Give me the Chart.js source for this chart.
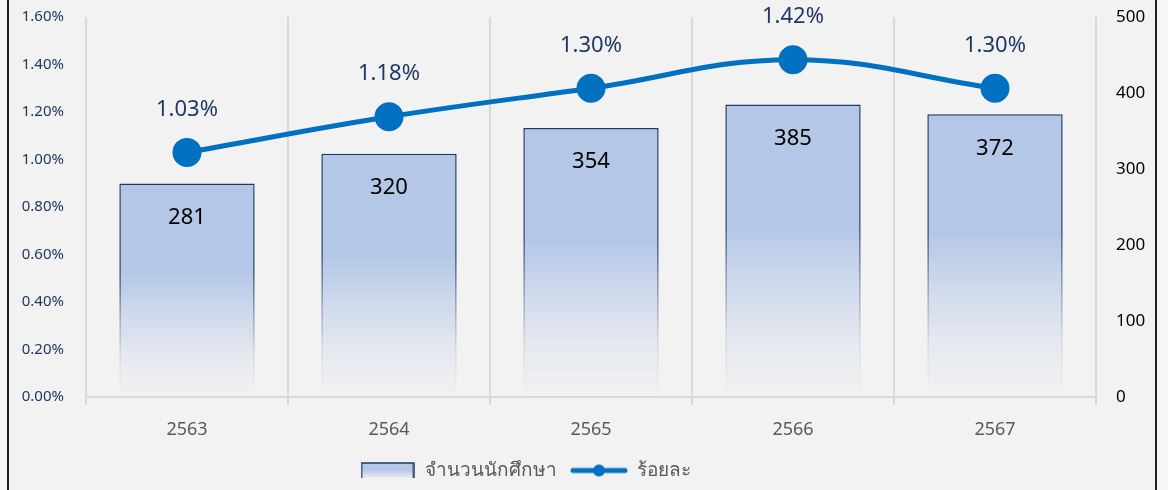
<!DOCTYPE html>
<html>
<head>
<meta charset="utf-8">
<script src="https://cdn.jsdelivr.net/npm/chart.js@4.4.0/dist/chart.umd.min.js"></script>
<style>
  html, body { margin: 0; padding: 0; background: #f7f7f7; }
  #frame {
    position: absolute; left: 7px; top: 0; width: 1146px; height: 490px;
    background: #f2f2f2; border-left: 2px solid #222; border-right: 2px solid #222;
  }
  #wrap { position: absolute; left: 0; top: 0; width: 1146px; height: 490px; }
</style>
</head>
<body>
<div id="frame"><div id="wrap"><canvas id="chart"></canvas></div></div>
<script>
const years = ['2563', '2564', '2565', '2566', '2567'];
const students = [281, 320, 354, 385, 372];
const percents = [1.03, 1.18, 1.30, 1.42, 1.30];
const pctTicks = [0, 0.2, 0.4, 0.6, 0.8, 1.0, 1.2, 1.4, 1.6];
const countTicks = [0, 100, 200, 300, 400, 500];

const FONT = "'Noto Sans', 'Open Sans', sans-serif";
const BAR_BLUE = '#b4c7e7';
const NAVY = '#203864';
const LINE_BLUE = '#0070c0';

// gradient for each bar, from its top to the axis
function barGradient(ctx, top, bottom, solid, fade) {
  const g = ctx.createLinearGradient(0, top, 0, bottom);
  g.addColorStop(0, solid);
  g.addColorStop(0.42, solid);
  g.addColorStop(0.6, fade[0]);
  g.addColorStop(0.8, fade[1]);
  g.addColorStop(1, fade[2]);
  return g;
}

function barFill(context) {
  const chart = context.chart;
  if (!chart.chartArea || context.type !== 'data') return BAR_BLUE;
  const y = chart.scales.yCount;
  return barGradient(chart.ctx, y.getPixelForValue(context.raw), y.getPixelForValue(0),
    BAR_BLUE, ['rgba(180,199,231,0.6)', 'rgba(180,199,231,0.22)', 'rgba(180,199,231,0)']);
}

function barBorder(context) {
  const chart = context.chart;
  if (!chart.chartArea || context.type !== 'data') return NAVY;
  const y = chart.scales.yCount;
  return barGradient(chart.ctx, y.getPixelForValue(context.raw), y.getPixelForValue(0),
    NAVY, ['rgba(32,56,100,0.55)', 'rgba(32,56,100,0.15)', 'rgba(32,56,100,0)']);
}

// legend swatches drawn on small canvases
function barSwatch() {
  const c = document.createElement('canvas');
  c.width = 54; c.height = 17;
  const x = c.getContext('2d');
  const g = x.createLinearGradient(0, 1, 0, 16);
  g.addColorStop(0, BAR_BLUE);
  g.addColorStop(0.45, BAR_BLUE);
  g.addColorStop(1, 'rgba(180,199,231,0.1)');
  x.fillStyle = g;
  x.fillRect(1, 1, 52, 15);
  x.strokeStyle = NAVY;
  x.lineWidth = 1.5;
  x.beginPath();
  x.moveTo(1, 16); x.lineTo(1, 1); x.lineTo(53, 1); x.lineTo(53, 16);
  x.stroke();
  return c;
}

function lineSwatch() {
  const c = document.createElement('canvas');
  c.width = 58; c.height = 14;
  const x = c.getContext('2d');
  x.strokeStyle = LINE_BLUE;
  x.lineWidth = 5;
  x.lineCap = 'round';
  x.beginPath();
  x.moveTo(3, 7); x.lineTo(55, 7);
  x.stroke();
  x.fillStyle = LINE_BLUE;
  x.beginPath();
  x.arc(29, 7, 6, 0, Math.PI * 2);
  x.fill();
  return c;
}

// value labels: counts inside bars, percents above points
const valueLabels = {
  id: 'valueLabels',
  afterLayout(chart) {
    // the legend sits a bit left of centre in the original
    chart.legend.left -= 57;
    chart.legend.right -= 57;
  },
  afterDatasetsDraw(chart) {
    const ctx = chart.ctx;
    ctx.save();
    ctx.textAlign = 'center';
    ctx.textBaseline = 'middle';
    ctx.font = '400 22px ' + FONT;
    chart.getDatasetMeta(1).data.forEach((bar, i) => {
      ctx.fillStyle = '#000';
      ctx.fillText(students[i], bar.x, bar.y + 34);
    });
    chart.getDatasetMeta(0).data.forEach((pt, i) => {
      ctx.fillStyle = NAVY;
      ctx.fillText(percents[i].toFixed(2) + '%', pt.x, pt.y - 43);
    });
    ctx.restore();
  }
};

const swatches = [barSwatch(), lineSwatch()];

new Chart(document.getElementById('chart'), {
  data: {
    labels: years,
    datasets: [
      {
        type: 'line',
        label: 'ร้อยละ',
        data: percents,
        yAxisID: 'yPct',
        borderColor: LINE_BLUE,
        backgroundColor: LINE_BLUE,
        borderWidth: 5,
        pointRadius: 12,
        pointHoverRadius: 12,
        tension: 0.4,
        order: 0
      },
      {
        type: 'bar',
        label: 'จำนวนนักศึกษา',
        data: students,
        yAxisID: 'yCount',
        backgroundColor: barFill,
        borderColor: barBorder,
        borderWidth: 1.5,
        borderSkipped: 'bottom',
        barPercentage: 1,
        categoryPercentage: 0.67,
        order: 1
      }
    ]
  },
  options: {
    responsive: true,
    maintainAspectRatio: false,
    animation: false,
    layout: { padding: { top: 17, left: 0, right: 0, bottom: 0 } },
    plugins: {
      tooltip: { enabled: false },
      legend: {
        position: 'bottom',
        labels: {
          usePointStyle: true,
          pointStyleWidth: 56,
          boxHeight: 15,
          padding: 14,
          color: '#595959',
          font: { family: FONT, size: 19 },
          generateLabels(chart) {
            return [
              { text: 'จำนวนนักศึกษา', pointStyle: swatches[0], datasetIndex: 1, fontColor: '#595959', lineWidth: 0 },
              { text: 'ร้อยละ', pointStyle: swatches[1], datasetIndex: 0, fontColor: '#595959', lineWidth: 0 }
            ];
          }
        }
      }
    },
    scales: {
      x: {
        offset: true,
        afterFit(axis) { axis.height = 50; },
        grid: { offset: true, color: '#d9d9d9', lineWidth: 2, tickLength: 8, drawTicks: true },
        border: { color: '#d9d9d9', width: 2 },
        ticks: { color: '#595959', font: { family: FONT, size: 18 }, padding: 14 }
      },
      yPct: {
        position: 'left',
        min: 0,
        max: 1.6,
        afterBuildTicks(axis) { axis.ticks = pctTicks.map(v => ({ value: v })); },
        afterFit(axis) { axis.width = 77; axis.paddingTop = 0; axis.paddingBottom = 0; },
        grid: { display: false },
        border: { display: false },
        ticks: {
          color: NAVY,
          font: { family: FONT, size: 15 },
          padding: 14,
          callback: v => v.toFixed(2) + '%'
        }
      },
      yCount: {
        position: 'right',
        min: 0,
        max: 500,
        afterBuildTicks(axis) { axis.ticks = countTicks.map(v => ({ value: v })); },
        afterFit(axis) { axis.width = 59; axis.paddingTop = 0; axis.paddingBottom = 0; },
        grid: { display: false },
        border: { display: false },
        ticks: { color: '#000', font: { family: FONT, size: 17 }, padding: 12 }
      }
    }
  },
  plugins: [valueLabels]
});
</script>
</body>
</html>
